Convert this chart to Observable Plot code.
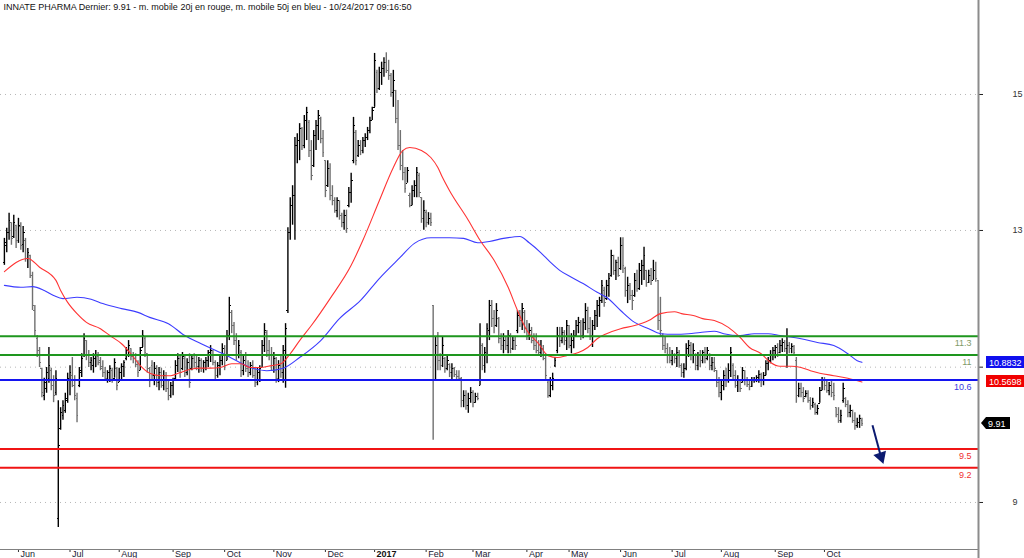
<!DOCTYPE html>
<html><head><meta charset="utf-8">
<script src="https://cdn.jsdelivr.net/npm/d3@7"></script>
<script src="https://cdn.jsdelivr.net/npm/@observablehq/plot@0.6"></script>
<style>
html,body{margin:0;padding:0;background:#fff;overflow:hidden}
#chart svg{display:block}
</style></head><body><div id="chart"></div>
<script>
const titleText = "INNATE PHARMA Dernier: 9.91 - m. mobile 20j en rouge, m. mobile 50j en bleu - 10/24/2017 09:16:50";

// Daily bars, one per trading day (index 0 = late May 2016, last = 24 Oct 2017)
const high = [
12.86,13.02,13.26,13.11,13.23,13.07,13.18,13.11,13.05,12.86,
12.70,12.59,12.32,11.79,11.31,11.12,10.79,10.63,10.80,11.12,
10.79,10.67,10.75,10.27,10.16,10.27,10.39,10.71,10.83,10.96,
10.67,10.39,10.80,11.02,11.34,11.23,11.07,10.96,11.02,11.07,
11.04,10.96,10.91,10.80,10.75,10.83,10.79,10.94,10.80,10.79,
10.86,10.91,11.12,11.23,11.10,11.04,11.02,10.91,11.12,11.39,
11.28,11.02,10.80,10.91,10.88,10.83,10.80,10.79,10.75,10.72,
10.59,10.56,10.63,10.91,11.02,10.99,11.04,10.99,10.94,11.02,
10.99,11.02,10.98,10.96,10.94,10.91,10.96,11.07,11.15,11.07,
10.91,10.88,10.99,11.18,11.15,11.39,11.92,11.71,11.52,11.34,
11.23,11.07,10.99,11.04,10.91,10.88,10.91,10.80,10.79,10.83,
11.23,11.50,11.39,11.23,11.12,11.04,10.96,10.91,10.99,11.15,
11.50,13.03,13.51,13.70,14.47,14.53,14.69,14.63,14.82,14.95,
14.74,14.42,14.58,14.74,14.90,14.79,14.58,14.10,14.10,14.05,
13.70,13.51,13.51,13.46,13.26,13.31,13.31,13.67,13.90,14.79,
14.58,14.42,14.42,14.47,14.53,14.63,14.79,14.95,15.81,15.54,
15.59,15.67,15.74,15.82,15.70,15.49,15.54,15.22,15.06,14.58,
14.26,13.99,13.99,13.58,13.70,13.78,13.99,13.90,13.51,13.46,
13.31,13.27,13.26,11.79,11.28,11.36,11.02,11.28,10.96,10.99,
10.86,10.86,10.80,10.75,10.75,10.64,10.43,10.43,10.39,10.48,
10.43,10.39,10.39,11.50,11.18,11.12,11.50,11.87,11.87,11.71,
11.82,11.60,11.34,11.34,11.28,11.39,11.34,11.28,11.28,11.71,
11.71,11.82,11.71,11.55,11.50,11.44,11.34,11.34,11.23,11.23,
11.15,11.02,10.59,10.64,10.71,10.96,11.44,11.44,11.44,11.39,
11.55,11.47,11.34,11.39,11.55,11.60,11.55,11.58,11.82,11.76,
11.60,11.55,11.71,11.87,11.92,12.19,12.08,12.19,12.30,12.67,
12.59,12.51,12.56,12.87,12.87,12.40,12.24,12.14,12.03,12.30,
12.35,12.46,12.51,12.72,12.35,12.35,12.38,12.51,12.48,12.19,
11.92,11.34,11.28,11.18,11.12,11.07,11.02,11.12,11.07,10.86,
10.86,11.18,11.23,11.20,11.18,11.02,11.04,11.07,11.07,11.12,
11.12,11.02,10.96,10.96,10.75,10.64,10.59,10.75,10.79,10.86,
11.12,10.86,10.75,10.67,10.59,10.80,10.75,10.64,10.59,10.64,
10.64,10.67,10.75,10.71,10.72,10.91,10.96,11.07,11.12,11.15,
11.18,11.23,11.26,11.23,11.42,11.20,11.18,11.15,10.96,10.55,
10.55,10.48,10.43,10.43,10.32,10.31,10.23,10.20,10.48,10.64,
10.64,10.59,10.56,10.59,10.55,10.16,10.16,10.12,10.55,10.32,
10.27,10.20,10.12,10.08,9.99,10.04,9.99];
const low = [
12.43,12.63,12.83,12.75,12.86,12.70,12.78,12.67,12.63,12.48,
12.38,12.22,11.71,11.28,10.96,10.80,10.32,10.27,10.39,10.55,
10.43,10.24,10.35,8.25,9.80,9.96,10.07,10.23,10.35,10.48,
10.27,9.92,10.48,10.64,10.96,10.91,10.80,10.75,10.71,10.80,
10.83,10.75,10.64,10.59,10.55,10.56,10.55,10.63,10.43,10.56,
10.59,10.64,10.91,10.96,10.91,10.86,10.80,10.64,10.75,11.12,
10.96,10.71,10.48,10.59,10.51,10.48,10.43,10.47,10.43,10.40,
10.27,10.31,10.35,10.59,10.72,10.63,10.75,10.64,10.67,10.47,
10.75,10.79,10.75,10.71,10.72,10.71,10.75,10.80,10.88,10.83,
10.59,10.63,10.67,10.83,10.75,10.91,11.23,11.34,11.15,10.91,
10.94,10.64,10.67,10.72,10.64,10.67,10.63,10.48,10.51,10.56,
10.80,11.04,10.96,10.91,10.75,10.71,10.55,10.56,10.63,10.55,
10.47,11.66,12.83,13.07,12.83,14.05,14.10,14.26,14.29,14.42,
14.15,13.78,13.99,14.26,14.42,14.37,14.15,13.51,13.67,13.46,
13.38,13.26,13.19,13.15,13.03,12.99,12.94,13.35,13.42,14.05,
14.02,14.15,14.18,14.21,14.31,14.42,14.53,14.74,14.95,15.17,
15.22,15.30,15.43,15.49,15.38,15.11,14.95,14.69,14.26,13.94,
13.78,13.58,13.74,13.35,13.38,13.51,13.51,13.51,13.10,12.99,
13.03,13.07,13.05,9.64,10.59,10.75,10.75,10.80,10.71,10.75,
10.64,10.59,10.64,10.59,10.59,10.16,10.16,10.12,10.07,10.23,
10.16,10.23,10.27,10.51,10.75,10.71,10.86,11.23,11.44,11.34,
11.44,11.18,11.07,11.02,11.07,11.02,11.02,11.07,11.07,11.34,
11.44,11.39,11.34,11.23,11.23,11.18,11.07,11.02,10.99,10.96,
10.91,10.59,10.31,10.32,10.43,10.80,11.02,11.12,11.18,11.15,
11.07,11.10,11.02,11.10,11.28,11.34,11.23,11.26,11.39,11.34,
11.23,11.12,11.39,11.44,11.60,11.82,11.76,11.87,11.92,12.24,
12.27,12.19,12.24,12.35,12.30,11.92,11.82,11.87,11.71,11.92,
12.00,12.03,12.11,12.19,12.08,12.14,12.11,12.19,12.16,11.39,
11.28,11.07,11.02,10.86,10.86,10.83,10.86,10.80,10.79,10.64,
10.63,10.75,10.96,10.91,10.86,10.75,10.75,10.80,10.86,10.86,
10.91,10.75,10.75,10.72,10.48,10.32,10.27,10.43,10.48,10.55,
10.64,10.59,10.47,10.40,10.40,10.55,10.51,10.48,10.43,10.48,
10.55,10.56,10.55,10.48,10.51,10.67,10.75,10.86,10.91,10.94,
10.96,11.02,11.04,11.04,10.79,11.02,11.02,10.99,10.23,10.32,
10.32,10.24,10.32,10.23,10.12,10.15,10.04,10.04,10.23,10.43,
10.43,10.39,10.35,10.32,10.27,10.00,9.91,9.91,10.23,10.16,
10.00,10.00,9.91,9.80,9.83,9.83,9.86];
const open = [
12.48,12.75,12.95,13.11,12.89,13.07,12.83,13.05,12.76,12.83,
12.54,12.59,12.27,11.71,11.26,11.07,10.79,10.35,10.47,10.63,
10.75,10.51,10.40,8.39,9.83,10.04,10.12,10.27,10.59,10.67,
10.51,10.31,10.51,10.72,10.99,11.23,10.99,10.88,10.83,10.94,
10.98,10.91,10.82,10.72,10.63,10.72,10.75,10.63,10.79,10.56,
10.72,10.82,10.94,11.07,11.10,10.98,10.94,10.85,10.75,11.12,
11.26,11.02,10.79,10.83,10.67,10.79,10.56,10.72,10.51,10.67,
10.47,10.35,10.51,10.63,10.83,10.94,10.79,10.94,10.72,10.88,
10.79,10.94,10.88,10.82,10.91,10.79,10.88,10.91,11.04,11.07,
10.88,10.67,10.83,10.91,11.10,10.91,11.31,11.68,11.47,11.23,
10.99,11.04,10.75,10.91,10.79,10.72,10.83,10.67,10.56,10.72,
10.80,11.15,11.36,11.07,10.99,10.83,10.94,10.63,10.83,10.72,
11.07,11.71,12.95,13.38,13.54,14.34,14.42,14.61,14.34,14.74,
14.71,14.26,14.02,14.50,14.66,14.77,14.45,14.10,13.70,13.97,
13.54,13.46,13.31,13.46,13.23,13.11,13.23,13.38,13.59,14.10,
14.55,14.18,14.34,14.26,14.42,14.47,14.58,14.74,14.95,15.51,
15.25,15.51,15.57,15.67,15.54,15.46,15.19,15.22,14.77,14.34,
14.02,13.91,13.74,13.54,13.38,13.62,13.70,13.86,13.51,13.18,
13.27,13.11,13.18,11.79,10.99,11.15,10.91,10.83,10.94,10.79,
10.85,10.72,10.79,10.69,10.66,10.63,10.27,10.35,10.20,10.31,
10.40,10.24,10.34,10.51,11.15,10.83,10.99,11.39,11.79,11.58,
11.47,11.58,11.26,11.15,11.23,11.15,11.31,11.10,11.23,11.39,
11.63,11.55,11.68,11.42,11.31,11.39,11.23,11.15,11.07,11.04,
11.10,10.94,10.56,10.35,10.51,10.83,11.07,11.31,11.23,11.36,
11.23,11.47,11.15,11.23,11.31,11.47,11.52,11.31,11.52,11.71,
11.42,11.31,11.47,11.63,11.79,11.87,12.03,11.90,12.11,12.27,
12.59,12.35,12.48,12.38,12.75,12.38,12.03,12.11,11.95,11.95,
12.19,12.06,12.35,12.43,12.35,12.16,12.27,12.19,12.35,12.19,
11.55,11.31,11.15,11.10,10.99,10.91,10.99,10.94,11.04,10.83,
10.72,10.79,11.10,11.15,10.99,10.99,10.83,10.99,10.91,11.04,
10.94,10.99,10.83,10.88,10.75,10.56,10.40,10.51,10.67,10.59,
10.75,10.83,10.67,10.51,10.59,10.56,10.75,10.59,10.53,10.50,
10.59,10.61,10.64,10.69,10.59,10.67,10.86,10.91,10.99,11.07,
11.12,11.04,11.15,11.20,11.10,11.15,11.10,11.14,10.91,10.35,
10.47,10.40,10.34,10.39,10.27,10.20,10.21,10.08,10.23,10.43,
10.59,10.51,10.43,10.51,10.40,10.16,10.05,9.96,10.27,10.31,
10.21,10.08,10.12,9.96,9.88,9.92,9.96];
const close = [
12.79,12.95,13.15,12.86,13.11,12.83,13.07,12.75,12.95,12.54,
12.63,12.27,11.79,11.39,11.07,10.88,10.40,10.56,10.72,10.83,
10.51,10.35,10.63,9.56,10.08,10.20,10.31,10.63,10.72,10.51,
10.35,10.04,10.75,10.94,11.26,10.99,10.88,10.91,10.94,10.99,
10.88,10.79,10.72,10.63,10.72,10.79,10.59,10.88,10.51,10.72,
10.82,10.88,11.07,11.15,10.98,10.94,10.85,10.72,11.07,11.31,
11.04,10.79,10.59,10.67,10.79,10.56,10.72,10.51,10.67,10.47,
10.35,10.51,10.59,10.83,10.94,10.72,10.98,10.72,10.88,10.56,
10.94,10.88,10.82,10.91,10.79,10.88,10.91,11.04,11.07,10.88,
10.67,10.83,10.91,11.10,10.83,11.31,11.79,11.47,11.23,10.99,
11.15,10.75,10.91,10.79,10.72,10.83,10.67,10.56,10.72,10.79,
11.15,11.39,11.07,10.99,10.83,10.94,10.63,10.83,10.72,11.07,
11.42,12.95,13.38,13.54,14.34,14.42,14.61,14.34,14.74,14.87,
14.26,13.86,14.50,14.66,14.82,14.45,14.23,13.62,13.97,13.54,
13.46,13.31,13.46,13.23,13.11,13.23,13.02,13.59,13.78,14.66,
14.10,14.34,14.26,14.42,14.47,14.58,14.74,14.90,15.70,15.25,
15.51,15.57,15.67,15.54,15.46,15.19,15.38,14.77,14.34,14.02,
13.91,13.66,13.94,13.38,13.62,13.70,13.91,13.59,13.18,13.31,
13.11,13.18,13.11,10.99,11.15,10.91,10.83,11.15,10.79,10.91,
10.72,10.79,10.69,10.66,10.63,10.27,10.35,10.20,10.31,10.40,
10.24,10.34,10.31,11.31,10.83,11.04,11.42,11.79,11.58,11.47,
11.71,11.26,11.15,11.23,11.15,11.31,11.10,11.23,11.15,11.63,
11.55,11.74,11.42,11.31,11.39,11.23,11.15,11.07,11.04,11.10,
10.94,10.67,10.35,10.51,10.63,10.91,11.31,11.23,11.36,11.23,
11.47,11.15,11.23,11.31,11.47,11.52,11.31,11.52,11.71,11.42,
11.31,11.47,11.63,11.79,11.87,12.11,11.84,12.11,12.22,12.59,
12.35,12.48,12.27,12.75,12.43,12.03,12.11,11.95,11.87,12.19,
12.06,12.35,12.43,12.59,12.16,12.27,12.19,12.35,12.22,11.55,
11.39,11.15,11.10,10.99,10.91,10.99,10.94,11.04,10.83,10.72,
10.79,11.10,11.15,10.99,11.07,10.83,10.99,10.91,11.04,10.94,
11.07,10.83,10.88,10.79,10.56,10.40,10.51,10.67,10.59,10.75,
11.04,10.67,10.51,10.59,10.47,10.75,10.59,10.53,10.50,10.59,
10.61,10.64,10.69,10.59,10.67,10.86,10.91,10.99,11.07,11.12,
11.04,11.15,11.20,11.10,11.15,11.10,11.14,11.04,10.35,10.47,
10.40,10.31,10.39,10.27,10.20,10.24,10.08,10.15,10.43,10.59,
10.51,10.43,10.51,10.40,10.35,10.05,9.96,10.04,10.47,10.21,
10.08,10.12,9.96,9.88,9.92,9.99,9.91];

// Moving averages: [trading-day index, value]
const ma20 = [[0,12.33],[10,12.54],[15,12.40],[22,12.19],[24,12.03],[27,11.84],[31,11.66],[35,11.52],[41,11.42],[45,11.31],[50,11.18],[54,11.02],[58,10.83],[62,10.71],[67,10.67],[71,10.67],[75,10.72],[79,10.77],[84,10.79],[88,10.79],[92,10.80],[97,10.86],[101,10.86],[105,10.80],[109,10.80],[114,10.83],[118,10.86],[122,11.02],[126,11.23],[131,11.47],[139,11.90],[148,12.43],[153,12.83],[160,13.46],[166,13.99],[170,14.26],[173,14.31],[178,14.26],[182,14.15],[185,13.99],[187,13.83],[190,13.62],[198,13.15],[203,12.83],[209,12.51],[215,12.08],[219,11.71],[223,11.39],[228,11.18],[232,10.99],[236,10.96],[240,10.99],[245,11.04],[249,11.12],[253,11.26],[257,11.34],[263,11.42],[269,11.47],[275,11.55],[280,11.66],[286,11.69],[289,11.66],[294,11.63],[298,11.58],[303,11.55],[309,11.44],[314,11.28],[318,11.12],[323,11.02],[327,10.88],[331,10.82],[336,10.82],[340,10.80],[344,10.75],[348,10.71],[354,10.67],[360,10.63],[366,10.5698]];
const ma50 = [[0,12.11],[7,12.08],[12,12.09],[17,12.03],[21,11.95],[25,11.90],[31,11.92],[37,11.89],[42,11.82],[50,11.74],[57,11.68],[62,11.60],[70,11.50],[77,11.31],[84,11.18],[95,10.99],[106,10.79],[112,10.75],[119,10.79],[126,10.96],[135,11.23],[143,11.58],[152,11.87],[160,12.22],[169,12.56],[175,12.78],[182,12.87],[190,12.87],[196,12.86],[202,12.79],[207,12.81],[213,12.86],[220,12.89],[224,12.79],[229,12.63],[233,12.48],[237,12.35],[242,12.24],[247,12.14],[253,12.00],[257,11.92],[263,11.71],[269,11.52],[275,11.42],[280,11.34],[286,11.33],[292,11.34],[297,11.36],[303,11.38],[307,11.34],[314,11.31],[320,11.34],[326,11.34],[331,11.31],[340,11.26],[347,11.20],[354,11.15],[360,11.02],[364,10.91],[366,10.8832]];

// Month ticks (trading-day index of first session) and labels
const monthIdx = [6,28,49,72,94,115,137,158,180,200,223,241,263,285,306,329,350];
const monthLabels = ["Jun","Jul","Aug","Sep","Oct","Nov","Dec","2017","Feb","Mar","Apr","May","Jun","Jul","Aug","Sep","Oct"];
// Price axis ticks as placed on the reference, with their printed labels (the third is hidden under a value tag)
const yTickVals = [15.155, 12.986, 10.806, 8.648];
const yTickLabels = ["15","13","","9"];
// Horizontal support / resistance levels
const levelVals = [11.3, 11.0, 10.6, 9.5, 9.2];
const levelLabels = ["11.3","11","10.6","9.5","9.2"];
const levelKinds = ["res","res","pivot","sup","sup"];
// Last values
const lastClose = 9.91, ma20Last = 10.5698, ma50Last = 10.8832;
// Trend arrow annotation: [index, price] start and head
const trendArrow = [[370.5, 9.88], [374.1, 9.38]];

const kindStroke = {res: "#1e961e", pivot: "#1414f0", sup: "#f01414"};
const kindText = {res: "#7f9a68", pivot: "#3a3ae0", sup: "#f03030"};

const bars = high.map((h, i) => ({i, h, l: low[i], o: open[i], c: close[i]}));
const barColor = d => d.c >= d.o ? "#000000" : "#707070";
const levels = levelVals.map((v, k) => ({v, label: levelLabels[k], kind: levelKinds[k]}));
const months = monthIdx.map((i, k) => ({i, label: monthLabels[k]}));

const font = "'Liberation Sans', Arial, sans-serif";

const chart = Plot.plot({
  width: 1024, height: 558,
  marginLeft: 0, marginRight: 46, marginTop: 0, marginBottom: 9,
  style: {fontFamily: font, fontSize: "9px", background: "#fff", color: "#222"},
  x: {domain: [-1.665, 415.75]},
  y: {domain: [7.898, 16.654]},
  color: {type: "identity"},
  marks: [
    Plot.ruleY(yTickVals, {stroke: "#b8b8b8", strokeDasharray: "1,4"}),
    Plot.ruleX(bars, {x: "i", y1: "l", y2: "h", stroke: barColor, strokeWidth: 1.4}),
    Plot.link(bars, {x1: d => d.i - 0.6, x2: "i", y1: "o", y2: "o", stroke: barColor, shapeRendering: "crispEdges"}),
    Plot.link(bars, {x1: "i", x2: d => d.i + 0.6, y1: "c", y2: "c", stroke: barColor, shapeRendering: "crispEdges"}),
    Plot.line(ma50, {x: d => d[0], y: d => d[1], stroke: "#3c3cff", strokeWidth: 1.1, curve: "monotone-x"}),
    Plot.line(ma20, {x: d => d[0], y: d => d[1], stroke: "#ff3434", strokeWidth: 1.1, curve: "monotone-x"}),
    Plot.ruleY(levels, {y: "v", stroke: d => kindStroke[d.kind], strokeWidth: 2}),
    Plot.text(levels, {y: "v", text: "label", frameAnchor: "right", dx: -7, dy: 7, textAnchor: "end", fill: d => kindText[d.kind], fontSize: 9}),
    Plot.link([trendArrow], {x1: d => d[0][0], y1: d => d[0][1], x2: d => d[1][0], y2: d => d[1][1], stroke: "#0c1a70", strokeWidth: 2}),
    Plot.dot([trendArrow[1]], {x: d => d[0], y: d => d[1], symbol: "triangle", r: 4, fill: "#0c1a70", stroke: "#0c1a70", rotate: 161}),
    Plot.axisY(yTickVals, {anchor: "right", tickSize: 4, tickPadding: 30, tickFormat: d => yTickLabels[yTickVals.indexOf(d)], fontSize: 9, fill: "#333", stroke: "#222", label: null}),
    Plot.axisX(monthIdx, {anchor: "bottom", tickSize: 3, tickFormat: () => "", stroke: "#333", label: null}),
    Plot.text(months.filter(d => d.label !== "2017"), {x: "i", text: "label", frameAnchor: "bottom", dy: 1.5, dx: 2, lineAnchor: "top", textAnchor: "start", fontSize: 9, fill: "#223"}),
    Plot.text(months.filter(d => d.label === "2017"), {x: "i", text: "label", frameAnchor: "bottom", dy: 1.5, dx: 2, lineAnchor: "top", textAnchor: "start", fontSize: 9, fontWeight: "bold", fill: "#111"}),
    Plot.text([titleText], {frameAnchor: "top-left", dx: 3, dy: 3, lineAnchor: "top", textAnchor: "start", fontSize: 9, fill: "#111"})
  ]
});

document.getElementById("chart").appendChild(chart);

// Frame lines and value tags, positioned from Plot's own scales
const xs = chart.scale("x"), ys = chart.scale("y");
const svg = d3.select(chart);
const right = xs.range[1], bottom = ys.range[0];
svg.append("line").attr("x1", 0).attr("x2", right).attr("y1", bottom + 0.5).attr("y2", bottom + 0.5)
  .attr("stroke", "#808080").attr("stroke-width", 1);
svg.append("line").attr("x1", right + 0.5).attr("x2", right + 0.5).attr("y1", 0).attr("y2", 558)
  .attr("stroke", "#8c8c8c").attr("stroke-width", 2);

function tag(value, text, fill, arrow) {
  const y = Math.round(ys.apply(value));
  const g = svg.append("g").attr("text-anchor", "start");
  if (arrow) {
    const x0 = right + 3, x1 = right + 8, x2 = right + 32;
    g.append("path").attr("d", `M${x0},${y} L${x1},${y - 6} L${x2},${y - 6} L${x2},${y + 6} L${x1},${y + 6} Z`).attr("fill", fill);
    g.append("text").attr("x", x1 + 2).attr("y", y + 3.5).attr("text-anchor", "start").attr("fill", "#fff").attr("font-size", 9).attr("font-family", font).text(text);
  } else {
    g.append("rect").attr("x", right + 8).attr("y", y - 6).attr("width", 1024 - right - 8).attr("height", 12).attr("fill", fill);
    g.append("text").attr("x", right + 11).attr("y", y + 3.5).attr("text-anchor", "start").attr("fill", "#fff").attr("font-size", 9).attr("font-family", font).text(text);
  }
}
tag(ma50Last, String(ma50Last), "#1010ee", false);
tag(ma20Last, String(ma20Last), "#f00000", false);
tag(lastClose, String(lastClose), "#000", true);
</script>
</body></html>
